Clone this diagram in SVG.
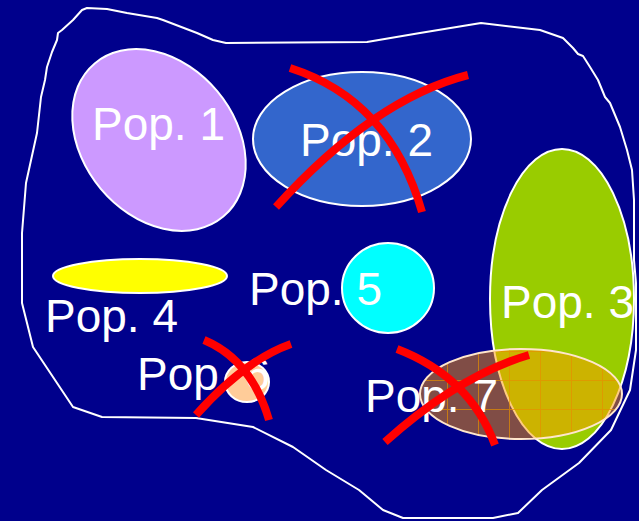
<svg xmlns="http://www.w3.org/2000/svg" width="639" height="521" viewBox="0 0 639 521">
  <defs>
    <style>
      .lbl { font-family: "Liberation Sans", Arial, sans-serif; font-size: 46px; fill: #FFFFFF; }
      .pop { stroke: #FFFFFF; stroke-width: 2; }
      .cross { fill: none; stroke: #FF0000; stroke-width: 8; stroke-linecap: butt; }
    </style>
    <pattern id="grid" patternUnits="userSpaceOnUse" x="447" y="380" width="31" height="29">
      <path d="M0.5 0 V29 M0 0.5 H31" stroke="#E58F00" stroke-width="1" fill="none"/>
    </pattern>
  </defs>

  <rect x="0" y="0" width="639" height="521" fill="#00008C"/>

  <g id="outline">
    <path d="M87 8 L107 9 L127 13 L157 18 L163 20 L197 33 L213 40 L226 43 L367 42 L420 33 L481 23 L540 30 L563 38 L573 48 L578 54 L583 56 L590 67 L598 80 L605 97 L610 103 L620 127 L627 150 L632 170 L634 200 L634 260 L636 283 L636 350 L630 390 L611 430 L579 463 L542 490 L518 513 L493 518 L403 518 L383 510 L359 490 L326 470 L293 447 L253 427 L196 418 L102 417 L73 407 L33 347 L22 303 L22 233 L26 183 L37 133 L41 97 L45 80 L47 67 L52 52 L57 40 L58 33 L62 30 L73 20 L82 10 Z" fill="none" stroke="#FFFFFF" stroke-width="2" stroke-linejoin="round"/>
  </g>

  <g id="pop1">
    <ellipse class="pop" cx="159" cy="140" rx="76" ry="100" transform="rotate(-40 159 140)" fill="#CC99FF"/>
    <text class="lbl" x="92" y="140">Pop. 1</text>
  </g>

  <g id="pop2">
    <ellipse class="pop" cx="362" cy="139" rx="109" ry="67" fill="#3366CC"/>
    <text class="lbl" x="300" y="156">Pop. 2</text>
  </g>

  <g id="pop3">
    <ellipse class="pop" cx="562" cy="299" rx="72" ry="150" fill="#99CC00"/>
    <text class="lbl" x="501" y="318">Pop. 3</text>
  </g>

  <g id="pop4">
    <ellipse class="pop" cx="140" cy="276" rx="87" ry="17" fill="#FFFF00"/>
    <text class="lbl" x="45" y="332">Pop. 4</text>
  </g>

  <g id="pop5">
    <ellipse class="pop" cx="388" cy="288" rx="46" ry="45" fill="#00FFFF"/>
    <text class="lbl" x="249" y="305">Pop. 5</text>
  </g>

  <g id="pop6">
    <ellipse class="pop" cx="247" cy="382" rx="22" ry="20" fill="#FFCC99"/>
    <text class="lbl" x="137" y="390">Pop. 6</text>
  </g>

  <g id="pop7">
    <ellipse cx="521" cy="394" rx="101" ry="45" fill="#FF9900" fill-opacity="0.5"/>
    <ellipse cx="521" cy="394" rx="101" ry="45" fill="url(#grid)" opacity="0.7"/>
    <ellipse cx="521" cy="394" rx="101" ry="45" fill="none" stroke="#FFE6CC" stroke-width="2"/>
    <text class="lbl" x="365" y="412">Pop. 7</text>
  </g>

  <g id="crosses">
    <path class="cross" d="M290 68 Q390 100 422 212"/>
    <path class="cross" d="M276 207 Q374 99 468 75"/>
    <path class="cross" d="M204 340 Q251.5 360 269 420"/>
    <path class="cross" d="M196 415 Q244.5 360.5 291 344"/>
    <path class="cross" d="M397 349 Q470 377 495 445"/>
    <path class="cross" d="M385 442 Q459 375.5 529 355"/>
  </g>
</svg>
